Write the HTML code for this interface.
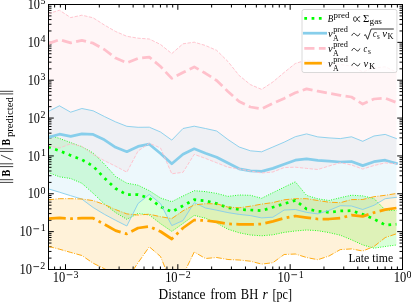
<!DOCTYPE html>
<html><head><meta charset="utf-8"><title>chart</title>
<style>html,body{margin:0;padding:0;background:#fff;}svg{display:block;will-change:transform;}text{font-family:"Liberation Serif",serif;fill:#000;}</style></head><body>
<svg width="411" height="302" viewBox="0 0 411 302">
<rect x="0" y="0" width="411" height="302" fill="#fff"/>
<defs><clipPath id="c"><rect x="48.5" y="4.5" width="354.0" height="265.0"/></clipPath></defs>
<g clip-path="url(#c)">
<polygon points="48.20,135.00 59.43,138.40 70.67,142.60 81.90,146.70 93.13,153.00 104.37,164.00 115.60,176.50 126.83,183.20 138.07,185.20 149.30,190.70 160.53,198.00 171.77,201.70 183.00,196.00 194.23,190.70 205.47,191.60 216.70,193.40 227.93,196.40 239.17,195.00 250.40,195.30 261.63,198.30 272.87,192.70 284.10,187.20 295.33,181.80 306.57,195.40 317.80,198.80 329.03,200.50 340.27,197.70 351.50,195.20 362.73,195.90 373.97,198.50 385.20,210.00 396.43,210.60 396.43,245.00 385.20,246.50 373.97,248.20 362.73,244.90 351.50,239.80 340.27,235.20 329.03,232.60 317.80,230.70 306.57,230.00 295.33,231.00 284.10,232.40 272.87,234.80 261.63,235.80 250.40,235.00 239.17,232.80 227.93,229.20 216.70,223.00 205.47,218.20 194.23,215.40 183.00,223.50 171.77,231.40 160.53,223.70 149.30,215.00 138.07,213.50 126.83,219.30 115.60,212.60 104.37,204.00 93.13,193.30 81.90,183.30 70.67,178.50 59.43,176.80 48.20,172.50" fill="#00ff00" fill-opacity="0.15" stroke="none"/>
<polygon points="48.20,111.50 59.43,105.80 70.67,112.20 81.90,108.50 93.13,110.80 104.37,116.50 115.60,121.90 126.83,126.30 138.07,127.30 149.30,127.20 160.53,132.00 171.77,140.10 183.00,128.50 194.23,126.20 205.47,128.50 216.70,131.00 227.93,139.50 239.17,147.00 250.40,150.80 261.63,151.80 272.87,147.00 284.10,142.20 295.33,136.70 306.57,133.90 317.80,136.90 329.03,137.90 340.27,138.60 351.50,136.80 362.73,141.30 373.97,136.00 385.20,134.40 396.43,138.60 396.43,197.30 385.20,198.70 373.97,205.30 362.73,209.50 351.50,206.00 340.27,205.70 329.03,210.40 317.80,213.90 306.57,212.40 295.33,209.50 284.10,210.10 272.87,217.20 261.63,217.90 250.40,215.60 239.17,214.40 227.93,212.60 216.70,210.20 205.47,208.00 194.23,202.70 183.00,220.50 171.77,225.60 160.53,203.60 149.30,194.40 138.07,203.50 126.83,226.00 115.60,220.30 104.37,214.30 93.13,207.50 81.90,199.10 70.67,195.70 59.43,192.20 48.20,188.80" fill="#87ceeb" fill-opacity="0.15" stroke="none"/>
<polygon points="48.20,13.70 59.43,10.20 70.67,17.60 81.90,15.20 93.13,17.80 104.37,25.00 115.60,31.50 126.83,36.30 138.07,38.20 149.30,39.00 160.53,44.50 171.77,53.60 183.00,43.80 194.23,42.20 205.47,45.50 216.70,50.40 227.93,61.50 239.17,75.50 250.40,84.60 261.63,89.40 272.87,82.00 284.10,72.50 295.33,63.50 306.57,60.00 317.80,61.50 329.03,63.00 340.27,64.50 351.50,66.00 362.73,71.90 373.97,68.00 385.20,66.80 396.43,72.00 396.43,163.70 385.20,162.90 373.97,165.50 362.73,169.10 351.50,165.00 340.27,162.70 329.03,166.00 317.80,169.50 306.57,168.40 295.33,167.20 284.10,167.60 272.87,172.00 261.63,173.00 250.40,171.00 239.17,169.00 227.93,167.20 216.70,162.80 205.47,158.40 194.23,154.40 183.00,172.30 171.77,173.80 160.53,148.00 149.30,143.30 138.07,151.00 126.83,172.20 115.60,166.20 104.37,160.70 93.13,154.50 81.90,146.50 70.67,143.70 59.43,148.10 48.20,145.60" fill="#ffc0cb" fill-opacity="0.15" stroke="none"/>
<polygon points="48.20,199.80 59.43,198.70 70.67,198.70 81.90,199.00 93.13,200.60 104.37,204.50 115.60,209.60 126.83,213.90 138.07,215.00 149.30,214.20 160.53,216.70 171.77,218.60 183.00,210.80 194.23,204.90 205.47,203.70 216.70,203.80 227.93,207.10 239.17,207.80 250.40,206.20 261.63,204.10 272.87,202.60 284.10,199.80 295.33,198.70 306.57,198.70 317.80,200.50 329.03,202.20 340.27,202.70 351.50,199.60 362.73,199.50 373.97,196.70 385.20,195.30 396.43,193.50 396.43,233.80 385.20,237.60 373.97,246.50 362.73,251.00 351.50,248.90 340.27,249.60 329.03,256.00 317.80,259.70 306.57,257.50 295.33,254.00 284.10,254.50 272.87,262.70 261.63,264.10 250.40,261.20 239.17,260.00 227.93,259.50 216.70,257.50 205.47,258.50 194.23,252.00 183.00,275.20 171.77,284.00 160.53,256.50 149.30,246.80 138.07,262.70 126.83,279.60 115.60,275.00 104.37,268.70 93.13,263.20 81.90,255.50 70.67,252.40 59.43,249.20 48.20,246.30" fill="#ffa500" fill-opacity="0.15" stroke="none"/>
</g>
<path d="M65.50,269.5v-5.3M65.50,4.5v5.3M177.83,269.5v-5.3M177.83,4.5v5.3M290.17,269.5v-5.3M290.17,4.5v5.3M402.50,269.5v-5.3M402.50,4.5v5.3M54.61,269.5v-3.0M54.61,4.5v3.0M60.36,269.5v-3.0M60.36,4.5v3.0M99.32,269.5v-3.0M99.32,4.5v3.0M119.10,269.5v-3.0M119.10,4.5v3.0M133.13,269.5v-3.0M133.13,4.5v3.0M144.02,269.5v-3.0M144.02,4.5v3.0M152.91,269.5v-3.0M152.91,4.5v3.0M160.43,269.5v-3.0M160.43,4.5v3.0M166.95,269.5v-3.0M166.95,4.5v3.0M172.69,269.5v-3.0M172.69,4.5v3.0M211.65,269.5v-3.0M211.65,4.5v3.0M231.43,269.5v-3.0M231.43,4.5v3.0M245.46,269.5v-3.0M245.46,4.5v3.0M256.35,269.5v-3.0M256.35,4.5v3.0M265.25,269.5v-3.0M265.25,4.5v3.0M272.77,269.5v-3.0M272.77,4.5v3.0M279.28,269.5v-3.0M279.28,4.5v3.0M285.03,269.5v-3.0M285.03,4.5v3.0M323.98,269.5v-3.0M323.98,4.5v3.0M343.76,269.5v-3.0M343.76,4.5v3.0M357.80,269.5v-3.0M357.80,4.5v3.0M368.68,269.5v-3.0M368.68,4.5v3.0M377.58,269.5v-3.0M377.58,4.5v3.0M385.10,269.5v-3.0M385.10,4.5v3.0M391.61,269.5v-3.0M391.61,4.5v3.0M397.36,269.5v-3.0M397.36,4.5v3.0M48.5,269.50h5.3M402.5,269.50h-5.3M48.5,231.64h5.3M402.5,231.64h-5.3M48.5,193.78h5.3M402.5,193.78h-5.3M48.5,155.93h5.3M402.5,155.93h-5.3M48.5,118.07h5.3M402.5,118.07h-5.3M48.5,80.21h5.3M402.5,80.21h-5.3M48.5,42.36h5.3M402.5,42.36h-5.3M48.5,4.50h5.3M402.5,4.50h-5.3M48.5,258.10h3.0M402.5,258.10h-3.0M48.5,251.44h3.0M402.5,251.44h-3.0M48.5,246.71h3.0M402.5,246.71h-3.0M48.5,243.04h3.0M402.5,243.04h-3.0M48.5,240.04h3.0M402.5,240.04h-3.0M48.5,237.51h3.0M402.5,237.51h-3.0M48.5,235.31h3.0M402.5,235.31h-3.0M48.5,233.37h3.0M402.5,233.37h-3.0M48.5,220.25h3.0M402.5,220.25h-3.0M48.5,213.58h3.0M402.5,213.58h-3.0M48.5,208.85h3.0M402.5,208.85h-3.0M48.5,205.18h3.0M402.5,205.18h-3.0M48.5,202.18h3.0M402.5,202.18h-3.0M48.5,199.65h3.0M402.5,199.65h-3.0M48.5,197.45h3.0M402.5,197.45h-3.0M48.5,195.52h3.0M402.5,195.52h-3.0M48.5,182.39h3.0M402.5,182.39h-3.0M48.5,175.72h3.0M402.5,175.72h-3.0M48.5,170.99h3.0M402.5,170.99h-3.0M48.5,167.32h3.0M402.5,167.32h-3.0M48.5,164.33h3.0M402.5,164.33h-3.0M48.5,161.79h3.0M402.5,161.79h-3.0M48.5,159.60h3.0M402.5,159.60h-3.0M48.5,157.66h3.0M402.5,157.66h-3.0M48.5,144.53h3.0M402.5,144.53h-3.0M48.5,137.87h3.0M402.5,137.87h-3.0M48.5,133.14h3.0M402.5,133.14h-3.0M48.5,129.47h3.0M402.5,129.47h-3.0M48.5,126.47h3.0M402.5,126.47h-3.0M48.5,123.94h3.0M402.5,123.94h-3.0M48.5,121.74h3.0M402.5,121.74h-3.0M48.5,119.80h3.0M402.5,119.80h-3.0M48.5,106.67h3.0M402.5,106.67h-3.0M48.5,100.01h3.0M402.5,100.01h-3.0M48.5,95.28h3.0M402.5,95.28h-3.0M48.5,91.61h3.0M402.5,91.61h-3.0M48.5,88.61h3.0M402.5,88.61h-3.0M48.5,86.08h3.0M402.5,86.08h-3.0M48.5,83.88h3.0M402.5,83.88h-3.0M48.5,81.95h3.0M402.5,81.95h-3.0M48.5,68.82h3.0M402.5,68.82h-3.0M48.5,62.15h3.0M402.5,62.15h-3.0M48.5,57.42h3.0M402.5,57.42h-3.0M48.5,53.75h3.0M402.5,53.75h-3.0M48.5,50.76h3.0M402.5,50.76h-3.0M48.5,48.22h3.0M402.5,48.22h-3.0M48.5,46.03h3.0M402.5,46.03h-3.0M48.5,44.09h3.0M402.5,44.09h-3.0M48.5,30.96h3.0M402.5,30.96h-3.0M48.5,24.29h3.0M402.5,24.29h-3.0M48.5,19.56h3.0M402.5,19.56h-3.0M48.5,15.90h3.0M402.5,15.90h-3.0M48.5,12.90h3.0M402.5,12.90h-3.0M48.5,10.36h3.0M402.5,10.36h-3.0M48.5,8.17h3.0M402.5,8.17h-3.0M48.5,6.23h3.0M402.5,6.23h-3.0" stroke="#000" stroke-width="1" fill="none"/>
<g clip-path="url(#c)">
<polyline points="48.20,146.90 59.43,150.80 70.67,155.40 81.90,159.70 93.13,166.20 104.37,178.00 115.60,188.50 126.83,194.70 138.07,194.60 149.30,198.20 160.53,206.70 171.77,211.80 183.00,205.80 194.23,199.70 205.47,200.70 216.70,203.60 227.93,207.70 239.17,209.40 250.40,210.00 261.63,210.70 272.87,207.20 284.10,203.80 295.33,200.40 306.57,209.00 317.80,211.20 329.03,212.30 340.27,211.00 351.50,210.70 362.73,214.30 373.97,219.00 385.20,225.00 396.43,224.20" fill="none" stroke="#00ff00" stroke-width="2.75" stroke-linejoin="round" stroke-dasharray="2.75,4.54"/>
<polyline points="48.20,172.50 59.43,176.80 70.67,178.50 81.90,183.30 93.13,193.30 104.37,204.00 115.60,212.60 126.83,219.30 138.07,213.50 149.30,215.00 160.53,223.70 171.77,231.40 183.00,223.50 194.23,215.40 205.47,218.20 216.70,223.00 227.93,229.20 239.17,232.80 250.40,235.00 261.63,235.80 272.87,234.80 284.10,232.40 295.33,231.00 306.57,230.00 317.80,230.70 329.03,232.60 340.27,235.20 351.50,239.80 362.73,244.90 373.97,248.20 385.20,246.50 396.43,245.00" fill="none" stroke="#00ff00" stroke-width="0.92" stroke-linejoin="round" stroke-dasharray="0.92,1.52"/>
<polyline points="48.20,135.00 59.43,138.40 70.67,142.60 81.90,146.70 93.13,153.00 104.37,164.00 115.60,176.50 126.83,183.20 138.07,185.20 149.30,190.70 160.53,198.00 171.77,201.70 183.00,196.00 194.23,190.70 205.47,191.60 216.70,193.40 227.93,196.40 239.17,195.00 250.40,195.30 261.63,198.30 272.87,192.70 284.10,187.20 295.33,181.80 306.57,195.40 317.80,198.80 329.03,200.50 340.27,197.70 351.50,195.20 362.73,195.90 373.97,198.50 385.20,210.00 396.43,210.60" fill="none" stroke="#00ff00" stroke-width="0.92" stroke-linejoin="round" stroke-dasharray="0.92,1.52"/>
<polyline points="48.20,137.40 59.43,134.20 70.67,136.40 81.90,133.80 93.13,134.40 104.37,139.80 115.60,147.30 126.83,151.70 138.07,146.40 149.30,144.20 160.53,153.50 171.77,163.80 183.00,154.30 194.23,148.80 205.47,153.20 216.70,157.20 227.93,163.00 239.17,168.80 250.40,170.80 261.63,171.30 272.87,168.40 284.10,164.30 295.33,160.20 306.57,158.90 317.80,160.30 329.03,161.20 340.27,162.00 351.50,161.50 362.73,165.60 373.97,161.70 385.20,160.20 396.43,163.40" fill="none" stroke="#87ceeb" stroke-width="2.75" stroke-linejoin="round" stroke-linecap="square"/>
<polyline points="48.20,188.80 59.43,192.20 70.67,195.70 81.90,199.10 93.13,207.50 104.37,214.30 115.60,220.30 126.83,226.00 138.07,203.50 149.30,194.40 160.53,203.60 171.77,225.60 183.00,220.50 194.23,202.70 205.47,208.00 216.70,210.20 227.93,212.60 239.17,214.40 250.40,215.60 261.63,217.90 272.87,217.20 284.10,210.10 295.33,209.50 306.57,212.40 317.80,213.90 329.03,210.40 340.27,205.70 351.50,206.00 362.73,209.50 373.97,205.30 385.20,198.70 396.43,197.30" fill="none" stroke="#87ceeb" stroke-width="0.92" stroke-linejoin="round" stroke-linecap="square"/>
<polyline points="48.20,111.50 59.43,105.80 70.67,112.20 81.90,108.50 93.13,110.80 104.37,116.50 115.60,121.90 126.83,126.30 138.07,127.30 149.30,127.20 160.53,132.00 171.77,140.10 183.00,128.50 194.23,126.20 205.47,128.50 216.70,131.00 227.93,139.50 239.17,147.00 250.40,150.80 261.63,151.80 272.87,147.00 284.10,142.20 295.33,136.70 306.57,133.90 317.80,136.90 329.03,137.90 340.27,138.60 351.50,136.80 362.73,141.30 373.97,136.00 385.20,134.40 396.43,138.60" fill="none" stroke="#87ceeb" stroke-width="0.92" stroke-linejoin="round" stroke-linecap="square"/>
<polyline points="48.20,43.60 59.43,39.70 70.67,42.90 81.90,40.40 93.13,43.20 104.37,49.50 115.60,58.10 126.83,62.80 138.07,58.30 149.30,57.10 160.53,66.50 171.77,78.40 183.00,72.50 194.23,66.90 205.47,73.30 216.70,80.50 227.93,91.50 239.17,101.50 250.40,107.00 261.63,108.90 272.87,103.30 284.10,98.40 295.33,92.80 306.57,88.90 317.80,91.20 329.03,93.30 340.27,95.30 351.50,97.00 362.73,104.10 373.97,99.00 385.20,98.20 396.43,102.50" fill="none" stroke="#ffc0cb" stroke-width="2.75" stroke-linejoin="round" stroke-dasharray="10.18,4.40"/>
<polyline points="48.20,145.60 59.43,148.10 70.67,143.70 81.90,146.50 93.13,154.50 104.37,160.70 115.60,166.20 126.83,172.20 138.07,151.00 149.30,143.30 160.53,148.00 171.77,173.80 183.00,172.30 194.23,154.40 205.47,158.40 216.70,162.80 227.93,167.20 239.17,169.00 250.40,171.00 261.63,173.00 272.87,172.00 284.10,167.60 295.33,167.20 306.57,168.40 317.80,169.50 329.03,166.00 340.27,162.70 351.50,165.00 362.73,169.10 373.97,165.50 385.20,162.90 396.43,163.70" fill="none" stroke="#ffc0cb" stroke-width="0.92" stroke-linejoin="round" stroke-dasharray="3.40,1.47"/>
<polyline points="48.20,13.70 59.43,10.20 70.67,17.60 81.90,15.20 93.13,17.80 104.37,25.00 115.60,31.50 126.83,36.30 138.07,38.20 149.30,39.00 160.53,44.50 171.77,53.60 183.00,43.80 194.23,42.20 205.47,45.50 216.70,50.40 227.93,61.50 239.17,75.50 250.40,84.60 261.63,89.40 272.87,82.00 284.10,72.50 295.33,63.50 306.57,60.00 317.80,61.50 329.03,63.00 340.27,64.50 351.50,66.00 362.73,71.90 373.97,68.00 385.20,66.80 396.43,72.00" fill="none" stroke="#ffc0cb" stroke-width="0.92" stroke-linejoin="round" stroke-dasharray="3.40,1.47"/>
<polyline points="48.20,218.60 59.43,217.90 70.67,218.60 81.90,218.20 93.13,218.20 104.37,224.30 115.60,230.60 126.83,233.90 138.07,228.00 149.30,226.50 160.53,231.50 171.77,239.00 183.00,228.00 194.23,220.00 205.47,220.50 216.70,221.90 227.93,223.80 239.17,224.40 250.40,224.40 261.63,224.00 272.87,221.30 284.10,218.20 295.33,216.00 306.57,217.60 317.80,219.00 329.03,219.00 340.27,218.10 351.50,215.20 362.73,216.40 373.97,212.60 385.20,209.70 396.43,208.00" fill="none" stroke="#ffa500" stroke-width="2.75" stroke-linejoin="round" stroke-dasharray="17.60,4.40,2.75,4.40"/>
<polyline points="48.20,246.30 59.43,249.20 70.67,252.40 81.90,255.50 93.13,263.20 104.37,268.70 115.60,275.00 126.83,279.60 138.07,262.70 149.30,246.80 160.53,256.50 171.77,284.00 183.00,275.20 194.23,252.00 205.47,258.50 216.70,257.50 227.93,259.50 239.17,260.00 250.40,261.20 261.63,264.10 272.87,262.70 284.10,254.50 295.33,254.00 306.57,257.50 317.80,259.70 329.03,256.00 340.27,249.60 351.50,248.90 362.73,251.00 373.97,246.50 385.20,237.60 396.43,233.80" fill="none" stroke="#ffa500" stroke-width="0.92" stroke-linejoin="round" stroke-dasharray="5.89,1.47,0.92,1.47"/>
<polyline points="48.20,199.80 59.43,198.70 70.67,198.70 81.90,199.00 93.13,200.60 104.37,204.50 115.60,209.60 126.83,213.90 138.07,215.00 149.30,214.20 160.53,216.70 171.77,218.60 183.00,210.80 194.23,204.90 205.47,203.70 216.70,203.80 227.93,207.10 239.17,207.80 250.40,206.20 261.63,204.10 272.87,202.60 284.10,199.80 295.33,198.70 306.57,198.70 317.80,200.50 329.03,202.20 340.27,202.70 351.50,199.60 362.73,199.50 373.97,196.70 385.20,195.30 396.43,193.50" fill="none" stroke="#ffa500" stroke-width="0.92" stroke-linejoin="round" stroke-dasharray="5.89,1.47,0.92,1.47"/>
</g>
<rect x="48.5" y="4.5" width="354.0" height="265.0" fill="none" stroke="#000" stroke-width="1"/>
<text transform="translate(19.50,274.10) scale(0.8803,1)" font-size="14.2">10</text>
<path d="M33.4,266.60h5.7" stroke="#000" stroke-width="0.75"/>
<text transform="translate(40.30,269.30) scale(1.0400,1)" font-size="9.6">2</text>
<text transform="translate(19.50,236.24) scale(0.8803,1)" font-size="14.2">10</text>
<path d="M33.4,228.74h5.7" stroke="#000" stroke-width="0.75"/>
<text transform="translate(40.80,231.44) scale(1.0400,1)" font-size="9.6">1</text>
<text transform="translate(27.70,198.38) scale(0.8662,1)" font-size="14.2">10</text>
<text transform="translate(40.40,193.59) scale(1.0400,1)" font-size="9.6">0</text>
<text transform="translate(27.70,160.53) scale(0.8662,1)" font-size="14.2">10</text>
<text transform="translate(40.90,155.73) scale(1.0400,1)" font-size="9.6">1</text>
<text transform="translate(27.70,122.67) scale(0.8662,1)" font-size="14.2">10</text>
<text transform="translate(40.40,117.87) scale(1.0400,1)" font-size="9.6">2</text>
<text transform="translate(27.70,84.81) scale(0.8662,1)" font-size="14.2">10</text>
<text transform="translate(40.40,80.01) scale(1.0400,1)" font-size="9.6">3</text>
<text transform="translate(27.70,46.96) scale(0.8662,1)" font-size="14.2">10</text>
<text transform="translate(40.40,42.16) scale(1.0400,1)" font-size="9.6">4</text>
<text transform="translate(27.70,9.10) scale(0.8662,1)" font-size="14.2">10</text>
<text transform="translate(40.40,4.30) scale(1.0400,1)" font-size="9.6">5</text>
<text transform="translate(52.80,282.40) scale(0.8803,1)" font-size="14.2">10</text>
<path d="M66.70,274.7h5.7" stroke="#000" stroke-width="0.75"/>
<text transform="translate(73.50,277.90) scale(1.0400,1)" font-size="9.6">3</text>
<text transform="translate(165.13,282.40) scale(0.8803,1)" font-size="14.2">10</text>
<path d="M179.03,274.7h5.7" stroke="#000" stroke-width="0.75"/>
<text transform="translate(185.83,277.90) scale(1.0400,1)" font-size="9.6">2</text>
<text transform="translate(277.47,282.40) scale(0.8803,1)" font-size="14.2">10</text>
<path d="M291.37,274.7h5.7" stroke="#000" stroke-width="0.75"/>
<text transform="translate(298.67,277.90) scale(1.0400,1)" font-size="9.6">1</text>
<text transform="translate(393.70,282.40) scale(0.8803,1)" font-size="14.2">10</text>
<text transform="translate(406.60,277.90) scale(1.0400,1)" font-size="9.6">0</text>
<text transform="translate(158.60,298.50) scale(0.9713,1)" font-size="13.8">Distance</text>
<text transform="translate(210.30,298.50) scale(0.9766,1)" font-size="13.8">from</text>
<text transform="translate(240.80,298.50) scale(0.9078,1)" font-size="13.8">BH</text>
<text transform="translate(262.40,298.50) scale(0.9772,1)" font-size="13.8" font-style="italic">r</text>
<text transform="translate(272.50,298.50) scale(0.8777,1)" font-size="13.8">[pc]</text>
<path d="M-1,182.4H13.2M-1,179.7H13.2M-1,166.6H13.2M-1,163.8H13.2M-1,151.4H13.2M-1,148.7H13.2M-1,93.9H13.2M-1,91.3H13.2" stroke="#000" stroke-width="0.75" fill="none"/>
<path d="M11.5,159.8L0.9,155.1" stroke="#000" stroke-width="0.75" fill="none"/>
<text transform="translate(9.90,176.40) rotate(-90) scale(0.7496,1)" font-size="13.4" font-weight="bold">B</text>
<text transform="translate(9.90,145.50) rotate(-90) scale(0.7384,1)" font-size="13.4" font-weight="bold">B</text>
<text transform="translate(13.00,137.10) rotate(-90) scale(1.0024,1)" font-size="10.7">predicted</text>
<text transform="translate(348.40,261.90) scale(0.9919,1)" font-size="11.9">Late time</text>
<rect x="302" y="9.5" width="94.9" height="63" rx="2" ry="2" fill="#fff" fill-opacity="0.8" stroke="#ccc" stroke-opacity="0.8" stroke-width="0.9"/>
<line x1="304.3" y1="18.3" x2="325.6" y2="18.3" stroke="#00ff00" stroke-width="2.75" stroke-dasharray="2.75,4.54"/>
<line x1="304.3" y1="33.2" x2="325.6" y2="33.2" stroke="#87ceeb" stroke-width="2.75" stroke-linecap="square"/>
<line x1="304.3" y1="48.3" x2="325.6" y2="48.3" stroke="#ffc0cb" stroke-width="2.75" stroke-dasharray="10.18,4.40"/>
<line x1="304.3" y1="63.2" x2="325.6" y2="63.2" stroke="#ffa500" stroke-width="2.75" stroke-dasharray="17.60,4.40,2.75,4.40"/>
<text transform="translate(327.70,21.60) scale(0.8413,1)" font-size="10.7" font-style="italic">B</text>
<text transform="translate(333.60,18.20) scale(1.1699,1)" font-size="7.6">pred</text>
<path transform="translate(353.6,19.1)" d="M6.5,-2.3C4.9,-2.3 4.2,-1.2 3.6,0C3,1.2 2.4,2.3 1.4,2.3C0.5,2.3 0,1.4 0,0C0,-1.4 0.5,-2.3 1.4,-2.3C2.4,-2.3 3,-1.2 3.6,0C4.2,1.2 4.9,2.3 6.5,2.3" fill="none" stroke="#000" stroke-width="0.8"/>
<text transform="translate(362.90,21.60) scale(1.0117,1)" font-size="10.7">Σ</text>
<text transform="translate(369.60,23.80) scale(1.2141,1)" font-size="7.6">gas</text>
<text transform="translate(327.90,36.90) scale(0.9893,1)" font-size="10.7" font-style="italic">v</text><text transform="translate(333.20,31.60) scale(1.0885,1)" font-size="7.6">pred</text><text transform="translate(333.10,40.60) scale(1.0206,1)" font-size="7.6">A</text>
<path d="M351.8,35.70000000000001c1.1,-2.9 2.6,-2.9 4,-1.1s2.9,1.8 4,-1.1" fill="none" stroke="#000" stroke-width="0.85"/>
<path d="M364.0,35.50000000000001l1.5,-0.8l2.1,4.6l3.6,-10.3h22.6" fill="none" stroke="#000" stroke-width="0.8"/>
<text transform="translate(372.90,36.90) scale(0.7578,1)" font-size="10.7" font-style="italic">c</text>
<text transform="translate(377.10,38.70) scale(0.9133,1)" font-size="7.6">s</text>
<text transform="translate(382.20,36.90) scale(1.0104,1)" font-size="10.7" font-style="italic">v</text>
<text transform="translate(387.60,39.10) scale(1.1117,1)" font-size="7.6">K</text>
<text transform="translate(327.90,52.00) scale(0.9893,1)" font-size="10.7" font-style="italic">v</text><text transform="translate(333.20,46.70) scale(1.0885,1)" font-size="7.6">pred</text><text transform="translate(333.10,55.70) scale(1.0206,1)" font-size="7.6">A</text>
<path d="M351.8,50.800000000000004c1.1,-2.9 2.6,-2.9 4,-1.1s2.9,1.8 4,-1.1" fill="none" stroke="#000" stroke-width="0.85"/>
<text transform="translate(363.60,52.00) scale(0.7788,1)" font-size="10.7" font-style="italic">c</text>
<text transform="translate(367.90,53.80) scale(0.9809,1)" font-size="7.6">s</text>
<text transform="translate(327.90,66.90) scale(0.9893,1)" font-size="10.7" font-style="italic">v</text><text transform="translate(333.20,61.60) scale(1.0885,1)" font-size="7.6">pred</text><text transform="translate(333.10,70.60) scale(1.0206,1)" font-size="7.6">A</text>
<path d="M351.8,65.7c1.1,-2.9 2.6,-2.9 4,-1.1s2.9,1.8 4,-1.1" fill="none" stroke="#000" stroke-width="0.85"/>
<text transform="translate(363.60,66.90) scale(0.9893,1)" font-size="10.7" font-style="italic">v</text>
<text transform="translate(368.90,69.10) scale(1.1481,1)" font-size="7.6">K</text>
</svg></body></html>
